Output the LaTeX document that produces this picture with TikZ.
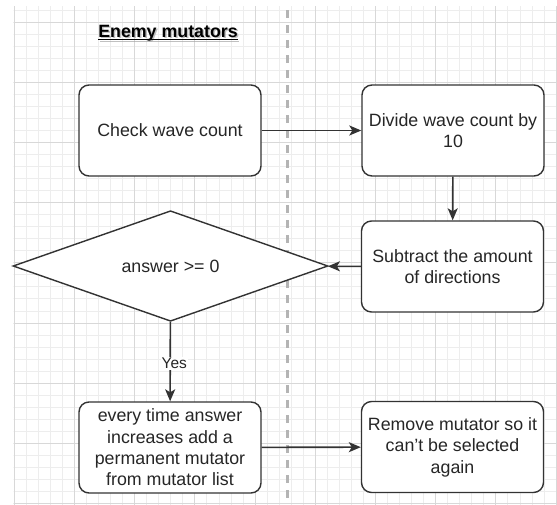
\documentclass[tikz,border=0pt]{standalone}
\usepackage{fontspec}
\setmainfont{Liberation Sans}
\usetikzlibrary{shapes.geometric,arrows.meta}
\definecolor{gridminor}{HTML}{EDEDED}
\definecolor{gridmajor}{HTML}{D8D8D8}
\definecolor{edge}{HTML}{333333}
\definecolor{txt}{HTML}{262626}
\definecolor{lane}{HTML}{B4B4B4}

\begin{document}
\begin{tikzpicture}[x=1pt,y=-1pt,
  every node/.style={font=\fontsize{17.8}{21.4}\selectfont, text=txt},
  stepbox/.style={draw=edge, line width=1.4pt, rounded corners=10pt, fill=white,
    minimum width=182pt, minimum height=91pt, align=center, inner sep=2pt},
  decision/.style={diamond, draw=edge, line width=1.4pt, fill=white,
    minimum width=315pt, minimum height=105pt, inner sep=0pt},
  flow/.style={draw=edge, line width=1.6pt, -{Stealth[length=12pt,width=10pt,inset=3pt]}},
  edgelabel/.style={fill=white, inner sep=1pt, font=\fontsize{15.5}{18}\selectfont},
]
% page
\fill[white] (0,0) rectangle (557,504);
\useasboundingbox (0,0) rectangle (557,504);

% background grid
\begin{scope}
  \clip (13.5,6) rectangle (557,504);
  \foreach \i in {0,...,45}
    \draw[gridminor, line width=0.9pt] ({14.3+12.04*\i},0) -- ++(0,510);
  \foreach \j in {-2,...,40}
    \draw[gridminor, line width=0.9pt] (0,{22+12.04*\j}) -- ++(560,0);
  \foreach \i in {0,...,9}
    \draw[gridmajor, line width=1pt] ({14.3+60.2*\i},0) -- ++(0,510);
  \foreach \j in {0,...,8}
    \draw[gridmajor, line width=1pt] (0,{22+60.2*\j}) -- ++(560,0);
\end{scope}

% lane divider
\draw[lane, line width=3pt, dash pattern=on 8pt off 7pt] (287,10) -- (287,501);

% title with soft shadow and underline
\node[inner sep=0pt, text=black!35, opacity=0.7] at (169.5,34.5) {\bfseries Enemy mutators};
\node[inner sep=0pt, text=black] (title) at (168,33) {\bfseries Enemy mutators};
\draw[black!35, opacity=0.7, line width=1.1pt] ([xshift=1.5pt,yshift=-4.1pt]title.base west) -- ([xshift=1.5pt,yshift=-4.1pt]title.base east);
\draw[black, line width=1.1pt] ([yshift=-2.6pt]title.base west) -- ([yshift=-2.6pt]title.base east);

% steps
\node[stepbox] (check) at (170,130.5) {Check wave count};
\node[stepbox] (divide) at (453,130.5) {Divide wave count by\\10};
\node[stepbox] (subtract) at (452.5,266.5) {Subtract the amount\\of directions};
\node[decision] (answer) at (170.5,266) {answer >= 0};
\node[stepbox] (every) at (170,447.5) {every time answer\\increases add a\\permanent mutator\\from mutator list};
\node[stepbox] (remove) at (452.5,447) {Remove mutator so it\\can't be selected\\again};

% connectors
\draw[flow] (check) -- (divide);
\draw[flow] (divide) -- (subtract);
\draw[flow] (subtract) -- (answer);
\draw[flow] (answer) -- (every) node[edgelabel, midway, xshift=4pt, yshift=-1.5pt] {Yes};
\draw[flow] (every) -- (remove);
\end{tikzpicture}
\end{document}
